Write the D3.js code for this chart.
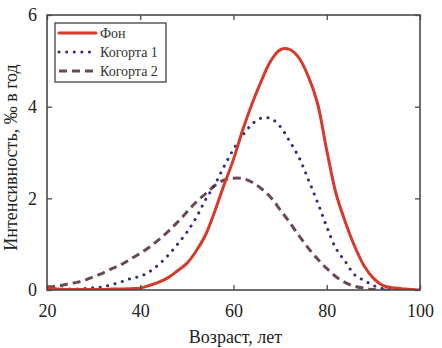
<!DOCTYPE html>
<html><head><meta charset="utf-8">
<script src="https://cdn.jsdelivr.net/npm/d3@7"></script>
<style>body{margin:0;background:#fff}svg{display:block}</style>
</head><body>
<svg id="c" width="442" height="348"></svg>
<script>
const ages = [20,22,24,26,28,30,32,34,36,38,40,42,44,46,48,50,52,54,56,58,60,62,64,66,68,70,72,74,76,78,80,82,84,86,88,90,92,94,96,98,100];
const fon = [0.05,0.02,0.01,0.01,0.01,0.01,0.01,0.02,0.02,0.03,0.04,0.1,0.17,0.27,0.42,0.58,0.85,1.2,1.72,2.3,2.85,3.5,4.07,4.57,5.0,5.24,5.25,5.07,4.67,4.08,3.05,2.1,1.48,0.95,0.53,0.26,0.1,0.05,0.03,0.01,0.0];
const kog1 = [0.02,0.02,0.02,0.02,0.03,0.05,0.07,0.12,0.18,0.25,0.3,0.4,0.56,0.76,1.0,1.26,1.58,1.97,2.3,2.7,3.07,3.38,3.62,3.75,3.74,3.57,3.25,2.9,2.42,1.92,1.38,0.9,0.62,0.33,0.21,0.1,0.03,0.01,0,0,0];
const kog2 = [0.07,0.08,0.12,0.16,0.21,0.29,0.37,0.47,0.56,0.68,0.8,0.94,1.1,1.28,1.48,1.7,1.92,2.1,2.28,2.4,2.44,2.43,2.35,2.21,2.02,1.75,1.48,1.19,0.92,0.68,0.47,0.29,0.16,0.08,0.04,0.01,0,0,0,0,0];
const xTicks = [20,40,60,80,100];
const yTicks = [0,2,4,6];
const seriesNames = ["Фон","Когорта 1","Когорта 2"];
const xLabel = "Возраст, лет";
const yLabel = "Интенсивность, ‰ в год";

const FONT = "Liberation Serif";
const svg = d3.select("#c");
const L=47, R=420, T=15, B=290;
const x = d3.scaleLinear().domain([20,100]).range([L,R]);
const y = d3.scaleLinear().domain([0,6]).range([B,T]);
const frame = "#4a4a4a";

const styles = [
  {data:fon, color:"#d63a2a", width:3, dash:null, cap:"round"},
  {data:kog1, color:"#2e3082", width:3, dash:"0.1 7.5", cap:"round"},
  {data:kog2, color:"#6c4a55", width:3, dash:"8 5", cap:"butt"}
];

const plot = svg.append("g");
svg.append("clipPath").attr("id","cp").append("rect")
  .attr("x",L).attr("y",T-10).attr("width",R-L).attr("height",B-T+10);

const line = d3.line().curve(d3.curveCatmullRom.alpha(0.5));
[2,1,0].forEach(i=>{
  const s = styles[i];
  plot.append("path")
    .attr("d", line(ages.map((a,j)=>[x(a), y(s.data[j])])))
    .attr("fill","none").attr("stroke",s.color).attr("stroke-width",s.width)
    .attr("stroke-dasharray",s.dash).attr("stroke-linecap",s.cap)
    .attr("stroke-linejoin","round").attr("clip-path","url(#cp)");
});

const tl = 5;
const fmt = d3.format("d");
const axB = svg.append("g").attr("transform",`translate(0,${B})`)
  .call(d3.axisBottom(x).tickValues(xTicks).tickSize(-tl).tickPadding(14).tickFormat(fmt));
const axT = svg.append("g").attr("transform",`translate(0,${T})`)
  .call(d3.axisTop(x).tickValues(xTicks).tickSize(-tl).tickFormat(""));
const axL = svg.append("g").attr("transform",`translate(${L},0)`)
  .call(d3.axisLeft(y).tickValues(yTicks).tickSize(-tl).tickPadding(10).tickFormat(fmt));
const axR = svg.append("g").attr("transform",`translate(${R},0)`)
  .call(d3.axisRight(y).tickValues(yTicks).tickSize(-tl).tickFormat(""));
[axB,axT,axL,axR].forEach(a=>{
  a.select(".domain").remove();
  a.selectAll(".tick line").attr("stroke",frame).attr("stroke-width",1.3);
  a.selectAll("text").attr("font-size",18).attr("fill","#222");
});
svg.append("rect").attr("x",L).attr("y",T).attr("width",R-L).attr("height",B-T)
  .attr("fill","none").attr("stroke",frame).attr("stroke-width",1.6);

svg.append("text").attr("x",(L+R)/2+2).attr("y",343).attr("text-anchor","middle")
  .attr("font-size",18).attr("fill","#222").text(xLabel);
svg.append("text").attr("transform",`translate(17,${(T+B)/2+5}) rotate(-90)`).attr("text-anchor","middle")
  .attr("font-size",18).attr("fill","#222").text(yLabel);

const lg = svg.append("g");
lg.append("rect").attr("x",55).attr("y",23).attr("width",111).attr("height",59)
  .attr("fill","#fff").attr("stroke","#333").attr("stroke-width",1.2);
seriesNames.forEach((n,i)=>{
  const yy = 33 + i*19;
  const s = styles[i];
  lg.append("line").attr("x1",59).attr("x2",96).attr("y1",yy).attr("y2",yy)
    .attr("stroke",s.color).attr("stroke-width",s.width).attr("stroke-dasharray",s.dash)
    .attr("stroke-linecap",s.cap);
  lg.append("text").attr("x",100).attr("y",yy+4.5)
    .attr("font-size",14).attr("fill","#333").text(n);
});

svg.selectAll("g").attr("font-family",null);
svg.selectAll("text").attr("font-family", FONT);
</script>
</body></html>
